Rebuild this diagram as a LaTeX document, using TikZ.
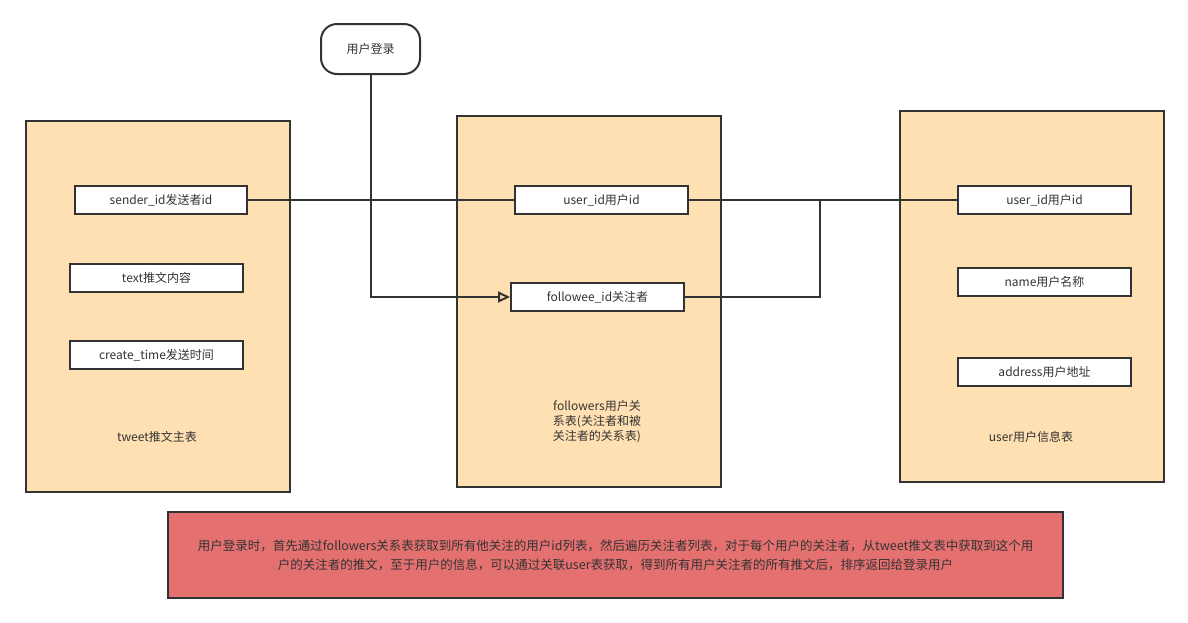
\documentclass[tikz,border=0pt]{standalone}
\usepackage{fontspec}
\setmainfont{Noto Sans CJK SC}
\usetikzlibrary{arrows.meta}
\definecolor{cont}{HTML}{FFE0B2}
\definecolor{redb}{HTML}{E57070}
\definecolor{ln}{HTML}{333333}
\begin{document}
\begin{tikzpicture}[x=1pt,y=-1pt,
  every node/.style={font=\fontsize{12}{15}\selectfont, text=ln},
  tbl/.style={draw=ln,line width=2pt,fill=cont,anchor=north west,inner sep=0pt},
  fld/.style={draw=ln,line width=2pt,fill=white,anchor=north west,inner sep=0pt,minimum width=173pt,minimum height=28pt},
  conn/.style={draw=ln,line width=2pt}]
\useasboundingbox (0,0) rectangle (1188,622);
\node[tbl,minimum width=264pt,minimum height=371pt] (tw) at (25,120) {};
\node[tbl,minimum width=264pt,minimum height=371pt] (fo) at (456,115) {};
\node[tbl,minimum width=264pt,minimum height=371pt] (us) at (899,110) {};
\node (twl) at (157,437) {tweet推文主表};
\node[align=center] (fol) at (597,422) {followers用户关\\系表(关注者和被\\关注者的关系表)};
\node (usl) at (1031,437) {user用户信息表};
\node[draw=ln,line width=2pt,fill=white,rounded corners=16pt,minimum width=99pt,minimum height=50pt] (login) at (370.5,49) {用户登录};
\node[fld,minimum width=172pt] (sender) at (74,185) {sender\_id发送者id};
\node[fld] (text) at (69,263) {text推文内容};
\node[fld] (ct) at (69,340) {create\_time发送时间};
\node[fld] (fuid) at (514,185) {user\_id用户id};
\node[fld] (fee) at (510,282) {followee\_id关注者};
\node[fld] (uuid) at (957,185) {user\_id用户id};
\node[fld] (name) at (957,267) {name用户名称};
\node[fld] (addr) at (957,357) {address用户地址};
\draw[conn] (sender.east) -- (fuid.west);
\draw[conn] (fuid.east) -- (uuid.west);
\coordinate (j) at (820,199);
\draw[conn] (fee.east) -| (j);
\draw[conn,-{Triangle[open,length=12pt,width=11pt]}] (login.south) |- (fee.west);
\node[draw=ln,line width=2pt,fill=redb,anchor=north west,minimum width=895pt,minimum height=86pt,inner sep=0pt] (note) at (167,511) {};
\node[align=center,font=\fontsize{12.5}{19}\selectfont] at (note.center) {用户登录时，首先通过followers关系表获取到所有他关注的用户id列表，然后遍历关注者列表，对于每个用户的关注者，从tweet推文表中获取到这个用\\户的关注者的推文，至于用户的信息，可以通过关联user表获取，得到所有用户关注者的所有推文后，排序返回给登录用户};
\end{tikzpicture}
\end{document}
